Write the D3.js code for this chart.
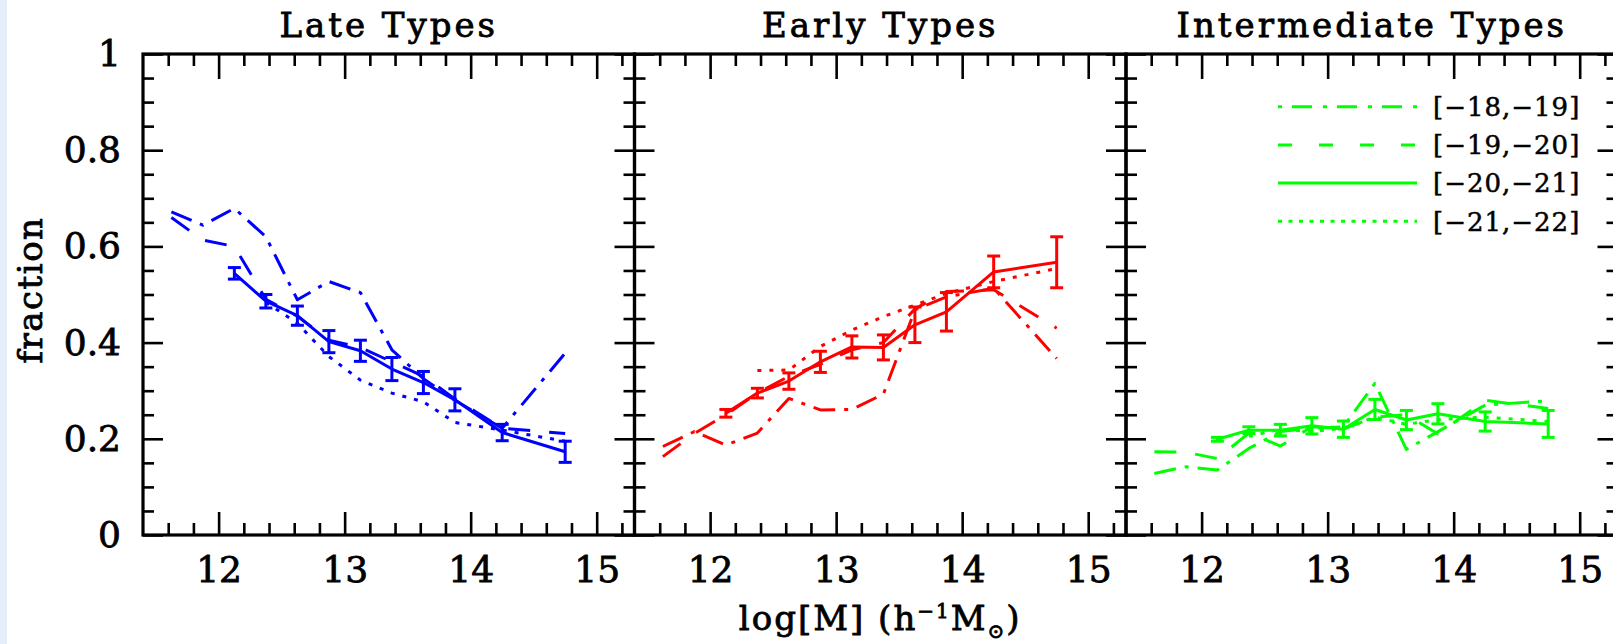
<!DOCTYPE html>
<html>
<head>
<meta charset="utf-8">
<script src="https://cdnjs.cloudflare.com/ajax/libs/d3/7.8.5/d3.min.js"></script>
<style>
	html, body { margin: 0; padding: 0; background: #fff; }
	svg { display: block; }
	text { font-family: "DejaVu Serif", serif; fill: #000; stroke: #000; stroke-width: 0.8px; }
</style>
</head>
<body>
<svg id="main-svg" width="1613" height="644"></svg>
<script>

// halo mass bins (log M), shared by every panel
var massBins = [ 11.625, 11.875, 12.125, 12.375, 12.625, 12.875, 13.125, 13.375, 13.625, 13.875, 14.25, 14.75 ];

var magBins = [ '[\u221218,\u221219]', '[\u221219,\u221220]', '[\u221220,\u221221]', '[\u221221,\u221222]' ];
var panelTitles = [ 'Late Types', 'Early Types', 'Intermediate Types' ];
var panelColors = [ '#0000ff', '#ff0000', '#00ff00' ];
var xTicks = [ 12, 13, 14, 15 ];
var yTicks = [ 0, 0.2, 0.4, 0.6, 0.8, 1 ];

// Late types
var late18 = [ 0.672, 0.644, 0.679, 0.620, 0.489, 0.527, 0.504, 0.385, 0.325, 0.280, 0.222, 0.378 ];
var late19 = [ 0.660, 0.613, 0.600, 0.490, 0.455, 0.405, 0.390, 0.360, 0.330, 0.283, 0.222, 0.211 ];
var late20 = [ null, null, 0.544, 0.486, 0.456, 0.402, 0.383, 0.345, 0.317, 0.281, 0.213, 0.173 ];
var late20err = [ null, null, 0.012, 0.014, 0.020, 0.023, 0.022, 0.024, 0.023, 0.023, 0.017, 0.022 ];
var late21 = [ null, null, null, 0.484, 0.440, 0.371, 0.322, 0.295, 0.277, 0.234, 0.218, 0.195 ];

// Early types
var early18 = [ 0.184, 0.215, 0.187, 0.212, 0.284, 0.260, 0.261, 0.293, 0.468, 0.495, 0.513, 0.367 ];
var early19 = [ 0.163, 0.211, 0.250, 0.295, 0.330, 0.355, 0.385, 0.400, 0.470, 0.506, 0.510, 0.430 ];
var early20 = [ null, null, 0.253, 0.295, 0.320, 0.360, 0.391, 0.390, 0.437, 0.464, 0.547, 0.567 ];
var early20err = [ null, null, 0.008, 0.010, 0.017, 0.022, 0.023, 0.026, 0.037, 0.040, 0.033, 0.053 ];
var early21 = [ null, null, null, 0.342, 0.343, 0.392, 0.426, 0.454, 0.478, 0.502, 0.527, 0.554 ];

// Intermediate types
var inter18 = [ 0.128, 0.142, 0.135, 0.180, 0.215, 0.222, 0.225, 0.315, 0.178, 0.215, 0.270, 0.279 ];
var inter19 = [ 0.173, 0.172, 0.159, 0.212, 0.185, 0.225, 0.220, 0.245, 0.250, 0.210, 0.280, 0.263 ];
var inter20 = [ null, null, 0.199, 0.218, 0.218, 0.227, 0.220, 0.261, 0.239, 0.252, 0.236, 0.231 ];
var inter20err = [ null, null, 0.004, 0.007, 0.012, 0.017, 0.017, 0.021, 0.020, 0.021, 0.020, 0.028 ];
var inter21 = [ null, null, null, 0.205, 0.220, 0.215, 0.222, 0.245, 0.230, 0.240, 0.245, 0.236 ];


var panels = [
	{ title: panelTitles[ 0 ], color: panelColors[ 0 ], series: [ late18, late19, late20, late21 ], err: late20err },
	{ title: panelTitles[ 1 ], color: panelColors[ 1 ], series: [ early18, early19, early20, early21 ], err: early20err },
	{ title: panelTitles[ 2 ], color: panelColors[ 2 ], series: [ inter18, inter19, inter20, inter21 ], err: inter20err }
];

// line type per magnitude bin: dot-dash, dash, solid, dotted
var panelDash = [ '22,9,4,9', '22,19', null, '4,8' ],
	legendDash = [ '4,10,20,11', '14,27', null, '4,6.5' ];

var plotLeft = 143,
	plotTop = 54,
	panelW = 491.5,
	panelH = 481;

var svg = d3.select( 'svg#main-svg' );

svg.append( 'rect' )
	.attr( 'x', 0 ).attr( 'y', 0 )
	.attr( 'width', 7 ).attr( 'height', 644 )
	.attr( 'fill', '#e4eff9' );

var x = d3.scaleLinear().domain( [ 11.4, 15.3 ] ).range( [ 0, panelW ] ),
	y = d3.scaleLinear().domain( [ 0, 1 ] ).range( [ panelH, 0 ] );

var xMinor = d3.range( 116, 153, 2 ).filter( function( v ) { return v % 10 !== 0; } ).map( function( v ) { return v / 10; } ),
	yMinor = d3.range( 0, 21 ).filter( function( i ) { return i % 4 !== 0; } ).map( function( i ) { return i / 20; } );

function styleAxis( g, showLabels ) {
	g.select( '.domain' ).remove();
	g.selectAll( '.tick line' ).attr( 'stroke', '#000' ).attr( 'stroke-width', 2.6 );
	g.selectAll( '.tick text' )
		.style( 'font-family', '"DejaVu Serif", serif' )
		.style( 'font-size', '36px' )
		.attr( 'fill', '#000' )
		.style( 'display', showLabels ? null : 'none' );
	g.attr( 'font-family', null ).attr( 'font-size', null );
}

var yFormat = function( d ) { return ( d === 0 || d === 1 ) ? String( d ) : d.toFixed( 1 ); };

var line = d3.line()
	.defined( function( d ) { return d[ 1 ] !== null; } )
	.x( function( d ) { return x( d[ 0 ] ); } )
	.y( function( d ) { return y( d[ 1 ] ); } );

panels.forEach( function( panel, p ) {

	var g = svg.append( 'g' ).attr( 'transform', 'translate(' + ( plotLeft + p * panelW ) + ',' + plotTop + ')' );

	// ticks on all four sides, all pointing inwards
	g.append( 'g' ).attr( 'transform', 'translate(0,' + panelH + ')' )
		.call( d3.axisBottom( x ).tickValues( xTicks ).tickSize( -23 ).tickPadding( 21 ).tickFormat( d3.format( 'd' ) ) )
		.call( styleAxis, true );
	g.append( 'g' ).attr( 'transform', 'translate(0,' + panelH + ')' )
		.call( d3.axisBottom( x ).tickValues( xMinor ).tickSize( -12 ) )
		.call( styleAxis, false );
	g.append( 'g' )
		.call( d3.axisTop( x ).tickValues( xTicks ).tickSize( -25 ) )
		.call( styleAxis, false );
	g.append( 'g' )
		.call( d3.axisTop( x ).tickValues( xMinor ).tickSize( -12 ) )
		.call( styleAxis, false );
	g.append( 'g' )
		.call( d3.axisLeft( y ).tickValues( yTicks ).tickSize( -20 ).tickPadding( 22 ).tickFormat( yFormat ) )
		.call( styleAxis, p === 0 );
	g.append( 'g' )
		.call( d3.axisLeft( y ).tickValues( yMinor ).tickSize( -11 ) )
		.call( styleAxis, false );
	g.append( 'g' ).attr( 'transform', 'translate(' + panelW + ',0)' )
		.call( d3.axisRight( y ).tickValues( yTicks ).tickSize( -20 ) )
		.call( styleAxis, false );
	g.append( 'g' ).attr( 'transform', 'translate(' + panelW + ',0)' )
		.call( d3.axisRight( y ).tickValues( yMinor ).tickSize( -11 ) )
		.call( styleAxis, false );

	g.append( 'rect' )
		.attr( 'width', panelW ).attr( 'height', panelH )
		.attr( 'fill', 'none' ).attr( 'stroke', '#000' ).attr( 'stroke-width', 3.2 );

	g.append( 'text' )
		.attr( 'x', panelW / 2 ).attr( 'y', -17 )
		.attr( 'text-anchor', 'middle' )
		.style( 'font-size', '34px' ).style( 'letter-spacing', '3px' )
		.text( panel.title );

	// one curve per magnitude bin
	panel.series.forEach( function( values, s ) {
		g.append( 'path' )
			.datum( massBins.map( function( m, i ) { return [ m, values[ i ] ]; } ) )
			.attr( 'd', line )
			.attr( 'fill', 'none' )
			.attr( 'stroke', panel.color )
			.attr( 'stroke-width', 3 )
			.attr( 'stroke-linejoin', 'round' )
			.attr( 'stroke-dasharray', panelDash[ s ] );
	} );

	// error bars on the [-20,-21] curve
	var bars = g.append( 'g' ).attr( 'stroke', panel.color ).attr( 'stroke-width', 3 );
	massBins.forEach( function( m, i ) {
		var v = panel.series[ 2 ][ i ], e = panel.err[ i ];
		if ( v === null ) { return; }
		var cx = x( m ), y0 = y( v - e ), y1 = y( v + e );
		bars.append( 'line' ).attr( 'x1', cx ).attr( 'x2', cx ).attr( 'y1', y0 ).attr( 'y2', y1 );
		bars.append( 'line' ).attr( 'x1', cx - 6.5 ).attr( 'x2', cx + 6.5 ).attr( 'y1', y0 ).attr( 'y2', y0 );
		bars.append( 'line' ).attr( 'x1', cx - 6.5 ).attr( 'x2', cx + 6.5 ).attr( 'y1', y1 ).attr( 'y2', y1 );
	} );

	if ( p === 2 ) {
		var legend = g.append( 'g' );
		magBins.forEach( function( label, s ) {
			var ly = 52.7 + s * 38.2;
			legend.append( 'line' )
				.attr( 'x1', 152 ).attr( 'x2', 291 )
				.attr( 'y1', ly ).attr( 'y2', ly )
				.attr( 'stroke', panel.color ).attr( 'stroke-width', 3 )
				.attr( 'stroke-dasharray', legendDash[ s ] );
			legend.append( 'text' )
				.attr( 'x', 307 ).attr( 'y', ly ).attr( 'dy', '0.36em' )
				.style( 'font-size', '26px' ).style( 'letter-spacing', '1px' )
				.style( 'stroke-width', '0.5px' )
				.text( label );
		} );
	}
} );

svg.append( 'text' )
	.attr( 'transform', 'translate(42,290) rotate(-90)' )
	.attr( 'text-anchor', 'middle' )
	.style( 'font-size', '34px' ).style( 'letter-spacing', '1.5px' )
	.text( 'fraction' );

var xLabel = svg.append( 'text' )
	.attr( 'x', plotLeft + panelW * 1.5 ).attr( 'y', 630 )
	.attr( 'text-anchor', 'middle' )
	.style( 'font-size', '34px' ).style( 'letter-spacing', '2px' );
xLabel.append( 'tspan' ).text( 'log[M] (h' );
xLabel.append( 'tspan' ).attr( 'dy', -12 ).style( 'font-size', '20px' ).text( '\u22121' );
xLabel.append( 'tspan' ).attr( 'dy', 12 ).text( 'M' );
xLabel.append( 'tspan' ).attr( 'dy', 8 ).style( 'font-size', '20px' ).text( '\u2299' );
xLabel.append( 'tspan' ).attr( 'dy', -8 ).text( ')' );

</script>
</body>
</html>
